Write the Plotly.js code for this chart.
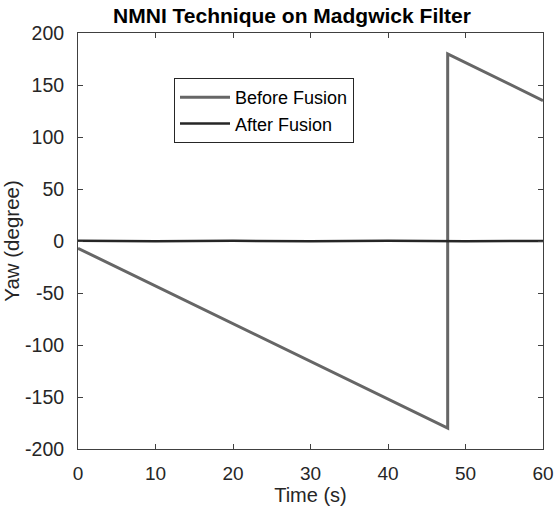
<!DOCTYPE html>
<html><head><meta charset="utf-8">
<script src="https://cdn.plot.ly/plotly-3.0.1.min.js"></script>
<style>html,body{margin:0;padding:0;background:#fff;}#chart{width:555px;height:506px;}</style>
</head><body><div id="chart"></div>
<script>
const beforeTime = [0, 47.7, 47.7, 60];
const beforeYaw = [-7, -180, 180, 135];
const afterTime = [0, 10, 20, 30, 40, 50, 60];
const afterYaw = [0.3, -0.3, 0.2, -0.2, 0.3, -0.3, 0.1];
const xTicks = [0, 10, 20, 30, 40, 50, 60];
const yTicks = [-200, -150, -100, -50, 0, 50, 100, 150, 200];

const font = 'Liberation Sans, Arial, sans-serif';
const axisCommon = {
  showgrid: false, zeroline: false, showline: true, mirror: 'ticks',
  linecolor: '#404040', linewidth: 1, ticks: 'inside', ticklen: 5, tickcolor: '#404040',
  tickfont: {family: font, size: 19.5, color: '#262626'}
};
Plotly.newPlot('chart', [
  {x: beforeTime, y: beforeYaw, mode: 'lines', name: 'Before Fusion', line: {color: '#666666', width: 3}},
  {x: afterTime, y: afterYaw, mode: 'lines', name: 'After Fusion', line: {color: '#262626', width: 2.5}}
], {
  width: 555, height: 506,
  margin: {l: 78, r: 12, t: 33, b: 57},
  paper_bgcolor: '#fff', plot_bgcolor: '#fff',
  showlegend: true,
  legend: {x: (174-78)/465, y: (449-78)/416, xanchor: 'left', yanchor: 'top', bgcolor: '#fff', bordercolor: '#262626', borderwidth: 1,
    font: {family: font, size: 18, color: '#000'}, tracegroupgap: 0, itemwidth: 50},
  title: {text: '<b>NMNI Technique on Madgwick Filter</b>', x: 292/555, xanchor: 'center', y: 1 - 16/506, yanchor: 'middle',
    font: {family: font, size: 21, color: '#000'}},
  xaxis: Object.assign({}, axisCommon, {range: [0, 60], tickvals: xTicks, ticktext: xTicks.map(String), ticklabelstandoff: 7,
    tickfont: {family: font, size: 19, color: '#262626'},
    title: {text: 'Time (s)', font: {family: font, size: 20, color: '#262626'}, standoff: 2}}),
  yaxis: Object.assign({}, axisCommon, {range: [-200, 200], tickvals: yTicks, ticktext: yTicks.map(String), ticklabelstandoff: 9,
    title: {text: 'Yaw (degree)', font: {family: font, size: 20.5, color: '#262626'}, standoff: 2}})
}, {displayModeBar: false});
</script></body></html>
